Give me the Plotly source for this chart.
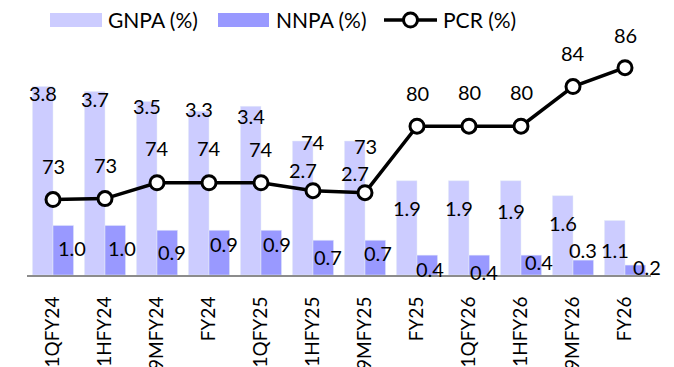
import plotly.graph_objects as go

# ---------------- data ----------------
categories = ["1QFY24", "1HFY24", "9MFY24", "FY24", "1QFY25", "1HFY25",
              "9MFY25", "FY25", "1QFY26", "1HFY26", "9MFY26", "FY26"]
gnpa = [3.8, 3.7, 3.5, 3.3, 3.4, 2.7, 2.7, 1.9, 1.9, 1.9, 1.6, 1.1]
nnpa = [1.0, 1.0, 0.9, 0.9, 0.9, 0.7, 0.7, 0.4, 0.4, 0.4, 0.3, 0.2]
pcr = [72.6, 72.7, 74.3, 74.3, 74.3, 73.5, 73.3, 80.0, 80.0, 80.0, 84.0, 85.9]

# ---------------- label placement (style, pixels) ----------------
gnpa_lbl_dy = [6, 8, 5, -2, 10, 29, 32, 27, 27, 30, 27, 30]      # + = below bar top
nnpa_lbl_dx = [9, 7, 5, 5, 6, 5, 3, 3, 5, 8, 0, 12]
nnpa_lbl_dy = [23, 23, 22, 14, 14, 17, 13, 14, 17, 7, -10, 2]
pcr_lbl_dy = [34, 34, 35, 35, 34, 49, 47, 33, 34, 34, 34, 33]    # above marker

# ---------------- style ----------------
FONT = "Lato"
FS = 20
C_GNPA = "#CCCCFF"
C_NNPA = "#9999FF"
W, H = 674, 367
ML, MR, MT, MB = 27, 23, 27, 92
BARGAP = 0.21
PW = W - ML - MR
PH = H - MT - MB

fig = go.Figure()
fig.add_trace(go.Bar(x=categories, y=gnpa, name="GNPA (%)", marker_color=C_GNPA,
                     showlegend=False, hoverinfo="x+y"))
fig.add_trace(go.Bar(x=categories, y=nnpa, name="NNPA (%)", marker_color=C_NNPA,
                     showlegend=False, hoverinfo="x+y"))
fig.add_trace(go.Scatter(x=categories, y=pcr, name="PCR (%)", yaxis="y2",
                         mode="lines+markers",
                         line=dict(color="black", width=3.5),
                         marker=dict(size=14, color="white",
                                     line=dict(color="black", width=3)),
                         showlegend=False, cliponaxis=False))

annotations = []
off = (1 - BARGAP) / 4
for i, (g, n, p) in enumerate(zip(gnpa, nnpa, pcr)):
    annotations.append(dict(x=i - off, y=g, xref="x", yref="y", text=f"{g:.1f}",
                            showarrow=False, xanchor="center", yanchor="middle",
                            yshift=-gnpa_lbl_dy[i]))
    annotations.append(dict(x=i + off, y=n, xref="x", yref="y", text=f"{n:.1f}",
                            showarrow=False, xanchor="center", yanchor="middle",
                            xshift=nnpa_lbl_dx[i], yshift=-nnpa_lbl_dy[i]))
    annotations.append(dict(x=i, y=p, xref="x", yref="y2", text=f"{p:.0f}",
                            showarrow=False, xanchor="center", yanchor="middle",
                            yshift=pcr_lbl_dy[i]))

# ---------------- custom legend (pixel layout -> paper coords) ----------------
def px(xp):
    return (xp - ML) / PW

def py(yp):
    return (H - MB - yp) / PH

shapes = [
    dict(type="rect", xref="paper", yref="paper", x0=px(50), x1=px(102),
         y0=py(27), y1=py(13), fillcolor=C_GNPA, line=dict(width=0)),
    dict(type="rect", xref="paper", yref="paper", x0=px(218), x1=px(269),
         y0=py(27), y1=py(13), fillcolor=C_NNPA, line=dict(width=0)),
    dict(type="line", xref="paper", yref="paper", x0=px(384), x1=px(437),
         y0=py(20), y1=py(20), line=dict(color="black", width=3.5)),
    dict(type="circle", xref="paper", yref="paper", xsizemode="pixel",
         ysizemode="pixel", xanchor=px(410.5), yanchor=py(20),
         x0=-7, x1=7, y0=-7, y1=7, fillcolor="white",
         line=dict(color="black", width=3)),
]
for txt, xp in [("GNPA (%)", 106), ("NNPA (%)", 274), ("PCR (%)", 441)]:
    annotations.append(dict(x=px(xp), y=py(20), xref="paper", yref="paper",
                            text=txt, showarrow=False, xanchor="left",
                            yanchor="middle", font=dict(size=21)))

fig.update_layout(
    width=W, height=H,
    margin=dict(l=ML, r=MR, t=MT, b=MB, pad=0, autoexpand=False),
    paper_bgcolor="white", plot_bgcolor="white",
    font=dict(family=FONT, size=FS, color="black"),
    barmode="group", bargap=BARGAP, bargroupgap=0,
    showlegend=False,
    xaxis=dict(type="category", range=[-0.5, len(categories) - 0.5],
               tickangle=-90, showline=True, linecolor="#8C8C8C",
               linewidth=2, showgrid=False, ticks="", zeroline=False,
               automargin=False, ticklabelstandoff=12,
               tickfont=dict(family=FONT, size=19, color="black")),
    yaxis=dict(range=[0, 5], visible=False, fixedrange=True, automargin=False),
    yaxis2=dict(range=[65, 90], overlaying="y", side="right", visible=False,
                automargin=False),
    annotations=annotations,
    shapes=shapes,
)

fig.write_html("out.html", config={"displayModeBar": False},
               post_script="document.body.style.margin='0';"
                           "document.body.style.overflow='hidden';")
